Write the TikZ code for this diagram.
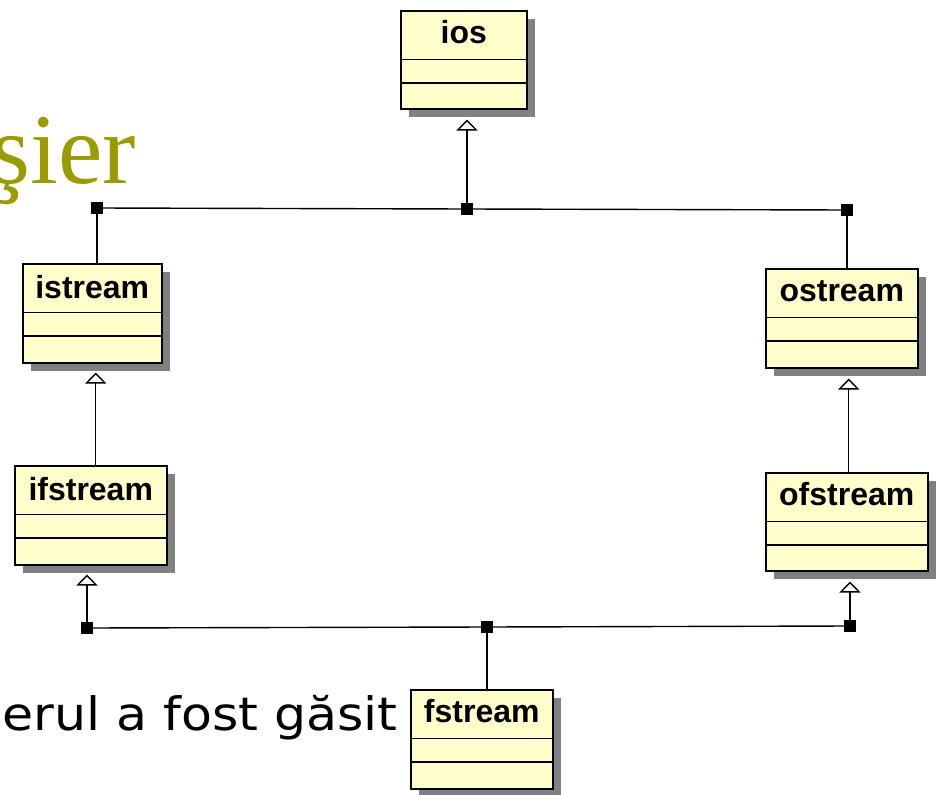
\documentclass[tikz,border=0pt]{standalone}
\usepackage{fontspec}
\setmainfont{Liberation Sans}
\newfontfamily\titlefont{Liberation Serif}
\newfontfamily\bodyfont[FakeStretch=1.1]{DejaVu Sans}
\usetikzlibrary{arrows.meta,shadows}
\definecolor{umlfill}{RGB}{255,255,204}
\definecolor{olivetitle}{RGB}{155,155,0}
\definecolor{shadowgray}{RGB}{128,128,128}
\begin{document}
\begin{tikzpicture}[x=1pt,y=-1pt,
  umlbox/.style={draw=black, line width=1.5pt, fill=umlfill, inner sep=0pt,
    minimum height=98pt, anchor=north west,
    drop shadow={shadow xshift=8pt, shadow yshift=-8pt, fill=shadowgray, opacity=1, draw=none}},
  divider/.style={line width=1.3pt, draw=black},
  clsname/.style={font=\bfseries\fontsize{32}{32}\selectfont, inner sep=0pt, anchor=base},
  junction/.style={rectangle, fill=black, draw=none, minimum size=12pt, inner sep=0pt},
  conn/.style={line width=1.4pt, draw=black},
  gen/.style={conn, -{Triangle[width=21pt, length=11pt, fill=white, line width=1.4pt]}}
]
\useasboundingbox (0,0) rectangle (938,795);
\clip (0,0) rectangle (938,795);

% texts of the slide
\node[inner sep=0pt, anchor=base east, text=olivetitle, font=\titlefont\fontsize{100}{100}\selectfont] (title) at (136,183) {şier};
\node[inner sep=0pt, anchor=base east, text=black, font=\bodyfont\fontsize{46}{46}\selectfont] (body) at (398,730) {erul a fost găsit};

% junctions
\node[junction] (j1) at (97,208) {};
\node[junction] (j0) at (467,209) {};
\node[junction] (j2) at (847,210) {};
\node[junction] (k1) at (87,628) {};
\node[junction] (k0) at (487,627) {};
\node[junction] (k2) at (850,626) {};

% classes
\node[umlbox, minimum width=126pt] (ios) at (400,10) {};
\node[umlbox, minimum width=139pt, minimum height=99pt] (istream) at (22,263) {};
\node[umlbox, minimum width=152pt, minimum height=99pt] (ifstream) at (14,465) {};
\node[umlbox, minimum width=152pt, minimum height=99pt] (ostream) at (765,268) {};
\node[umlbox, minimum width=162pt] (ofstream) at (765,472) {};
\node[umlbox, minimum width=142pt, minimum height=99pt] (fstream) at (410,689) {};

\foreach \n in {ios,istream,ifstream,ostream,ofstream,fstream}{
  \draw[divider] ([yshift=-49.5pt]\n.north west) -- ([yshift=-49.5pt]\n.north east);
  \draw[divider] ([yshift=-73pt]\n.north west) -- ([yshift=-73pt]\n.north east);
}

\node[clsname] (ios-t) at ([yshift=-33pt]ios.north) {ios};
\node[clsname] (istream-t) at ([yshift=-35pt]istream.north) {istream};
\node[clsname] (ifstream-t) at ([yshift=-35pt]ifstream.north) {ifstream};
\node[clsname] (ostream-t) at ([yshift=-33pt]ostream.north) {ostream};
\node[clsname] (ofstream-t) at ([yshift=-33pt]ofstream.north) {ofstream};
\node[clsname] (fstream-t) at ([yshift=-33pt]fstream.north) {fstream};

% connectors
\draw[conn] (j1.center) -- (j0.center) -- (j2.center);
\draw[conn] (k1.center) -- (k0.center) -- (k2.center);
\draw[gen] (j0.center) -- ([yshift=-10pt]j0 |- ios.south);
\draw[conn] (j1.center) -- (j1 |- istream.north);
\draw[conn] (j2.center) -- (j2 |- ostream.north);
\draw[gen] ([xshift=5pt]ifstream.north) -- ([xshift=5pt,yshift=-9pt]ifstream.north |- istream.south);
\draw[gen] ([xshift=2pt]ofstream.north) -- ([xshift=2pt,yshift=-10pt]ofstream.north |- ostream.south);
\draw[gen] (k1.center) -- ([yshift=-9pt]k1 |- ifstream.south);
\draw[gen] (k2.center) -- ([yshift=-10pt]k2 |- ofstream.south);
\draw[conn] (k0.center) -- (k0 |- fstream.north);
\end{tikzpicture}
\end{document}
